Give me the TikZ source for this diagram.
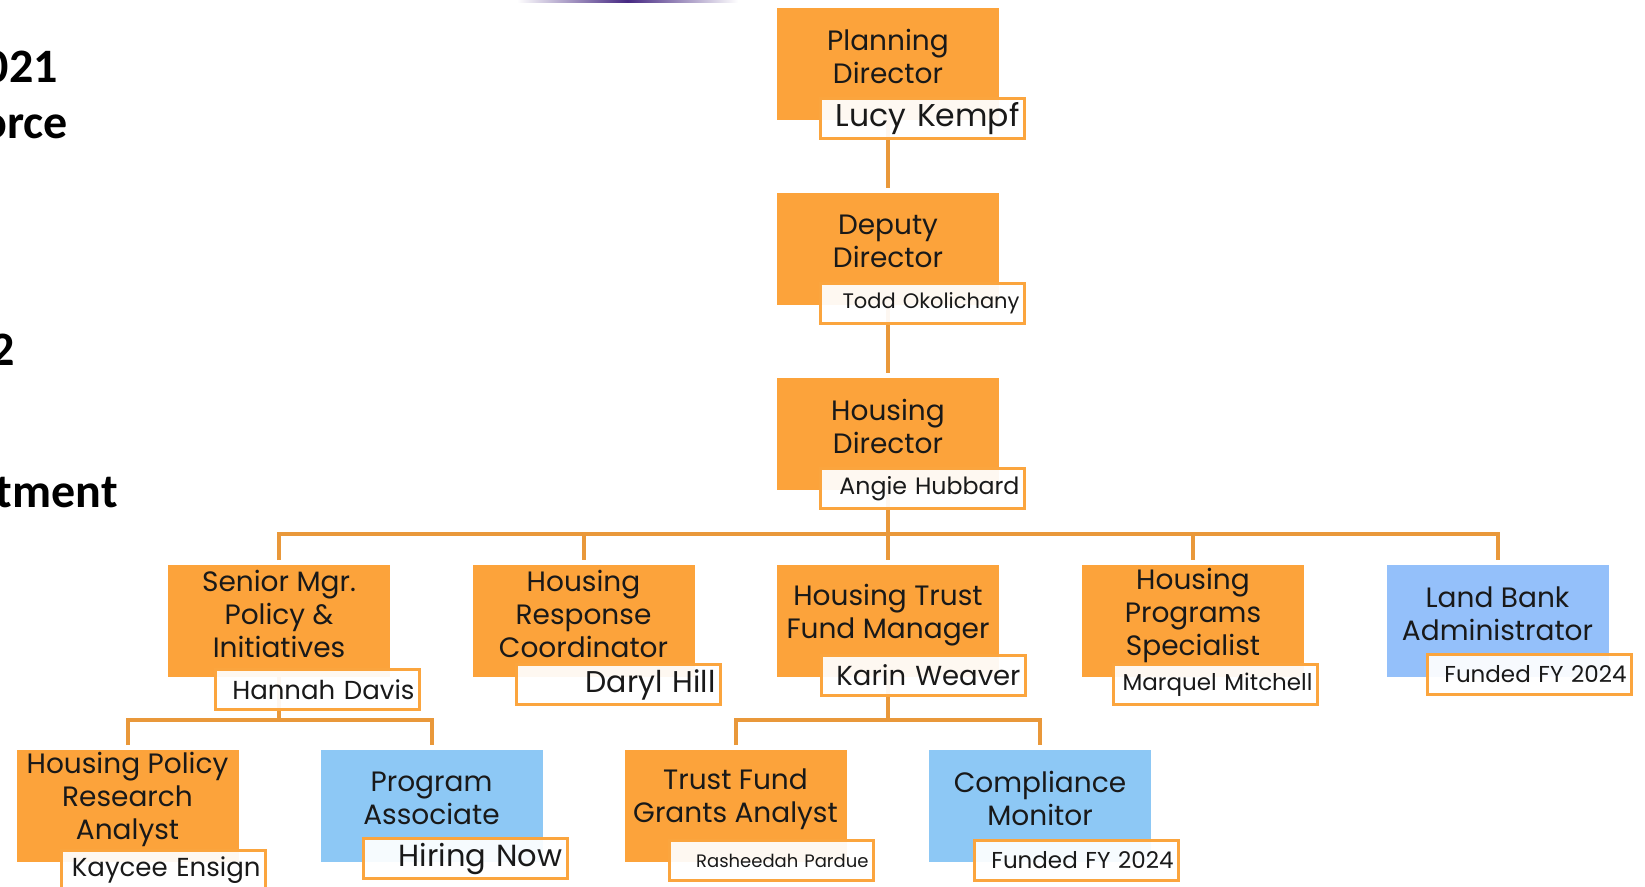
\documentclass[tikz,border=0pt]{standalone}
\usepackage{fontspec}
\setmainfont{Poppins}
\newfontfamily\slidefont{Carlito}
\usetikzlibrary{backgrounds}

\definecolor{boxorange}{RGB}{252,163,59}
\definecolor{boxblue}{RGB}{141,200,245}
\definecolor{bankblue}{RGB}{148,192,250}
\definecolor{linkorange}{RGB}{233,152,58}
\definecolor{nameorange}{RGB}{251,165,62}
\definecolor{topline}{RGB}{70,40,130}

\tikzset{
  post/.style={fill=boxorange, minimum width=222pt, minimum height=112pt, inner sep=0pt, anchor=north},
  open/.style={post, fill=boxblue},
  title/.style={align=center, font=\fontsize{28}{33}\selectfont, text=black!90, inner sep=0pt},
  who/.style={draw=nameorange, line width=3pt, fill=white, fill opacity=.93, text opacity=1,
    minimum width=204pt, minimum height=40pt, text width=194pt, align=right,
    inner sep=0pt, anchor=north west, text=black!90},
  link/.style={draw=linkorange, line width=4pt},
  slide/.style={anchor=base east, inner sep=0pt, font=\slidefont\bfseries\fontsize{48}{48}\selectfont}
}

\begin{document}
\begin{tikzpicture}[x=1pt,y=-1pt]
	\useasboundingbox (0,0) rectangle (1645,886);
	\clip (0,0) rectangle (1645,886);
	
	% Reste der Folie links und oben
	\shade[left color=white, right color=white, middle color=topline] (517,0) rectangle (738,2);
	\node[slide] (s1) at (58,82) {021};
	\node[slide] (s2) at (68,138) {orce};
	\node[slide] (s3) at (15,365) {2};
	\node[slide] (s4) at (118,507) {tment};
	
	% Leitung
	\node[post] (pd) at (888,8) {};
	\node[title] at ([yshift=-48pt]pd.north) {Planning\\Director};
	\node[who, font=\fontsize{31.5}{31.5}\selectfont] (pdn) at (819,97) {Lucy Kempf};
	
	\node[post] (dd) at (888,193) {};
	\node[title] at ([yshift=-48pt]dd.north) {Deputy\\Director};
	\node[who, font=\fontsize{21}{21}\selectfont] (ddn) at (819,282) {Todd Okolichany};
	
	\node[post] (hd) at (888,378) {};
	\node[title] at ([yshift=-48pt]hd.north) {Housing\\Director};
	\node[who, font=\fontsize{23.7}{23.7}\selectfont] (hdn) at (819,467) {Angie Hubbard};
	
	% dritte Ebene
	\node[post] (sm) at (279,565) {};
	\node[title] at ([yshift=-49pt]sm.north) {Senior Mgr.\\Policy \&\\Initiatives};
	\node[who, font=\fontsize{26}{26}\selectfont] (smn) at (214,668) {Hannah Davis};
	
	\node[post] (hr) at (583.5,565) {};
	\node[title] at ([yshift=-49pt]hr.north) {Housing\\Response\\Coordinator};
	\node[who, font=\fontsize{30}{30}\selectfont] (hrn) at (515,663) {Daryl Hill};
	
	\node[post] (tf) at (888,565) {};
	\node[title] at ([yshift=-50pt]tf.north) {Housing Trust\\Fund Manager};
	\node[who, font=\fontsize{27.5}{27.5}\selectfont] (tfn) at (820,654) {Karin Weaver};
	
	\node[post] (hp) at (1193,565) {};
	\node[title] at ([yshift=-50pt]hp.north) {Housing\\Programs\\Specialist};
	\node[who, font=\fontsize{23}{23}\selectfont] (hpn) at (1112,663) {Marquel Mitchell};
	
	\node[open, fill=bankblue] (lb) at (1497.5,565) {};
	\node[title] at ([yshift=-49pt]lb.north) {Land Bank\\Administrator};
	\node[who, font=\fontsize{23}{23}\selectfont] (lbn) at (1426,653) {Funded FY 2024};
	
	% vierte Ebene
	\node[post] (pr) at (127.5,750) {};
	\node[title] at ([yshift=-49pt]pr.north) {Housing Policy\\Research\\Analyst};
	\node[who, font=\fontsize{26}{26}\selectfont] (prn) at (60,849) {Kaycee Ensign};
	
	\node[open] (pa) at (431.5,750) {};
	\node[title] at ([yshift=-48pt]pa.north) {Program\\Associate};
	\node[who, font=\fontsize{30.5}{30.5}\selectfont] (pan) at (362,837) {Hiring Now};
	
	\node[post] (ga) at (735.5,750) {};
	\node[title] at ([yshift=-49pt]ga.north) {Trust Fund\\Grants Analyst};
	\node[who, font=\fontsize{18}{18}\selectfont] (gan) at (668,839) {Rasheedah Pardue};
	
	\node[open] (cm) at (1040,750) {};
	\node[title] at ([yshift=-48pt]cm.north) {Compliance\\Monitor};
	\node[who, font=\fontsize{23}{23}\selectfont] (cmn) at (973,839) {Funded FY 2024};
	
	% Verbindungen
	\begin{scope}[on background layer]
		\draw[link, shorten >=5pt] (pd) -- (dd.north);
		\draw[link, shorten >=5pt] (dd) -- (hd.north);
		
		\coordinate (bus) at (888,534);
		\draw[link] (hd) -- (bus);
		\draw[link] ([yshift=5pt]sm.north) |- (bus) -| ([yshift=5pt]lb.north);
		\foreach \n in {hr,tf,hp}
			\draw[link] (\n.north |- bus) -- ([yshift=5pt]\n.north);
		
		\coordinate (bussm) at (279,720);
		\draw[link] (sm) -- (bussm);
		\draw[link] ([yshift=5pt]pr.north) |- (bussm) -| ([yshift=5pt]pa.north);
		
		\coordinate (bustf) at (888,720);
		\draw[link] (tf) -- (bustf);
		\draw[link] ([yshift=5pt]ga.north) |- (bustf) -| ([yshift=5pt]cm.north);
	\end{scope}
	
\end{tikzpicture}
\end{document}
